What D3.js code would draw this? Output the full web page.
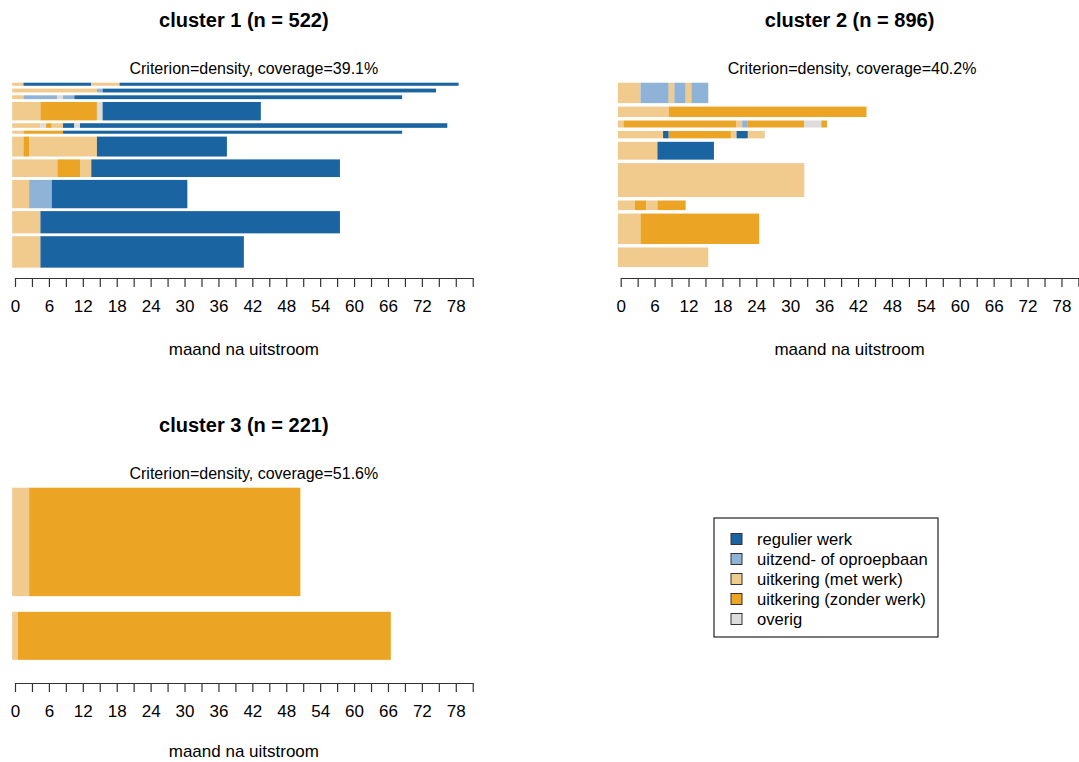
<!DOCTYPE html>
<html>
<head>
<meta charset="utf-8">
<script src="https://cdn.jsdelivr.net/npm/d3@7"></script>
<style>
  html, body { margin: 0; padding: 0; background: #fff; }
  svg { display: block; font-family: "Liberation Sans", Arial, sans-serif; }
</style>
</head>
<body>
<svg id="chart" width="1079" height="762"></svg>
<script>
// ---- data ----
const states = ["regulier werk", "uitzend- of oproepbaan", "uitkering (met werk)", "uitkering (zonder werk)", "overig"];
const stateCodes = ["R", "U", "M", "Z", "O"];
const stateColors = ["#1b64a2", "#8fb3d6", "#f1ca8e", "#eba424", "#dcdcdc"];

const clusterTitles = ["cluster 1 (n = 522)", "cluster 2 (n = 896)", "cluster 3 (n = 221)"];
const clusterSubtitles = ["Criterion=density, coverage=39.1%", "Criterion=density, coverage=40.2%", "Criterion=density, coverage=51.6%"];

// representative sequences, top to bottom, as runs "state+months"
const cluster1Seqs = [
  "M2 R12 M5 R60",
  "M15 U1 R59",
  "M2 U6 O1 U2 R58",
  "M5 Z10 O1 R28",
  "M5 O1 Z1 M2 R2 O1 R65",
  "M2 Z7 R60",
  "M2 Z1 M12 R23",
  "M8 Z4 M2 R44",
  "M3 U4 R24",
  "M5 R53",
  "M5 R36"
];
const cluster1Weights = [4, 5, 5, 24, 6, 4, 26, 23, 37, 29, 41];

const cluster2Seqs = [
  "M4 U5 M1 U2 M1 U3",
  "M9 Z35",
  "M1 Z20 M1 U1 Z10 O3 Z1",
  "M8 R1 Z11 M1 R2 M3",
  "M7 R10",
  "M33",
  "M3 Z2 M2 Z5",
  "M4 Z21",
  "M16"
];
const cluster2Weights = [47, 24, 16, 17, 41, 78, 22, 70, 45];

const cluster3Seqs = [
  "M3 Z48",
  "M1 Z66"
];
const cluster3Weights = [79, 35];

const tickMonths = d3.range(0, 82, 3);       // ticks every 3 months
const labelMonths = d3.range(0, 79, 6);      // labels every 6 months
const xLabel = "maand na uitstroom";

// ---- layout ----
const svg = d3.select("#chart");
const panels = [
  { seqs: cluster1Seqs, weights: cluster1Weights, x0: 15, top: 82.7, bot: 270.5, axisY: 278, subDx: 10, labDy: 77 },
  { seqs: cluster2Seqs, weights: cluster2Weights, x0: 620.7, top: 82.7, bot: 270.5, axisY: 278, subDx: 2.5, labDy: 77 },
  { seqs: cluster3Seqs, weights: cluster3Weights, x0: 15, top: 487.7, bot: 675.5, axisY: 683, subDx: 10, labDy: 74 }
];
const pxPerMonth = 5.651;
const color = d3.scaleOrdinal().domain(stateCodes).range(stateColors);

function parseSeq(s) {
  let start = 0;
  return s.split(" ").map(tok => {
    const code = tok[0], len = +tok.slice(1);
    const seg = { code, start, len };
    start += len;
    return seg;
  });
}

panels.forEach((p, i) => {
  const x = d3.scaleLinear().domain([0, 81]).range([p.x0, p.x0 + 81 * pxPerMonth]);
  const n = p.weights.length;
  const total = d3.sum(p.weights);
  const gap = 0.2 * total / n;
  const domainMax = total + n * gap;
  const y = d3.scaleLinear().domain([0, domainMax]).range([p.bot, p.top]);

  const rows = [];
  let cum = 0;
  for (let k = n - 1; k >= 0; k--) {
    cum += gap;
    rows[k] = { lo: cum, hi: cum + p.weights[k] };
    cum += p.weights[k];
  }

  const g = svg.append("g");
  p.seqs.forEach((s, k) => {
    const segs = parseSeq(s);
    g.selectAll(null).data(segs).enter().append("rect")
      .attr("x", d => x(d.start - 0.5))
      .attr("width", d => x(d.start + d.len - 0.5) - x(d.start - 0.5))
      .attr("y", y(rows[k].hi))
      .attr("height", y(rows[k].lo) - y(rows[k].hi))
      .attr("fill", d => color(d.code));
  });

  const cx = (x(0) + x(81)) / 2;
  svg.append("text").attr("x", cx).attr("y", p.top - 55.5)
    .attr("text-anchor", "middle").attr("font-size", 20).attr("font-weight", "bold")
    .attr("fill", "#000").text(clusterTitles[i]);
  svg.append("text").attr("x", cx + p.subDx).attr("y", p.top - 8.5)
    .attr("text-anchor", "middle").attr("font-size", 16)
    .attr("fill", "#000").text(clusterSubtitles[i]);

  const axis = d3.axisBottom(x)
    .tickValues(tickMonths)
    .tickSize(9).tickSizeOuter(0).tickPadding(13)
    .tickFormat(m => labelMonths.includes(m) ? String(m) : "");
  const ag = svg.append("g").attr("transform", `translate(0,${p.axisY})`).call(axis);
  ag.select(".domain").attr("stroke", "#333").attr("stroke-width", 1.2);
  ag.selectAll(".tick line").attr("stroke", "#333").attr("stroke-width", 1.2);
  ag.selectAll(".tick text").attr("font-size", 17).attr("fill", "#000")
    .attr("font-family", "Liberation Sans, Arial, sans-serif");

  svg.append("text").attr("x", cx).attr("y", p.axisY + p.labDy)
    .attr("text-anchor", "middle").attr("font-size", 17)
    .attr("fill", "#000").text(xLabel);
});

// ---- legend ----
const lg = svg.append("g").attr("transform", "translate(714,518)");
lg.append("rect").attr("width", 224).attr("height", 119)
  .attr("fill", "#fff").attr("stroke", "#222").attr("stroke-width", 1.2);
const li = lg.selectAll(".li").data(states).enter().append("g")
  .attr("transform", (d, k) => `translate(0,${21 + k * 20})`);
li.append("rect").attr("x", 17).attr("y", -5.5).attr("width", 11).attr("height", 11)
  .attr("fill", (d, k) => stateColors[k]).attr("stroke", "#333").attr("stroke-width", 1);
li.append("text").attr("x", 43).attr("y", 6).attr("font-size", 16.6).attr("fill", "#000")
  .text(d => d);
</script>
</body>
</html>
